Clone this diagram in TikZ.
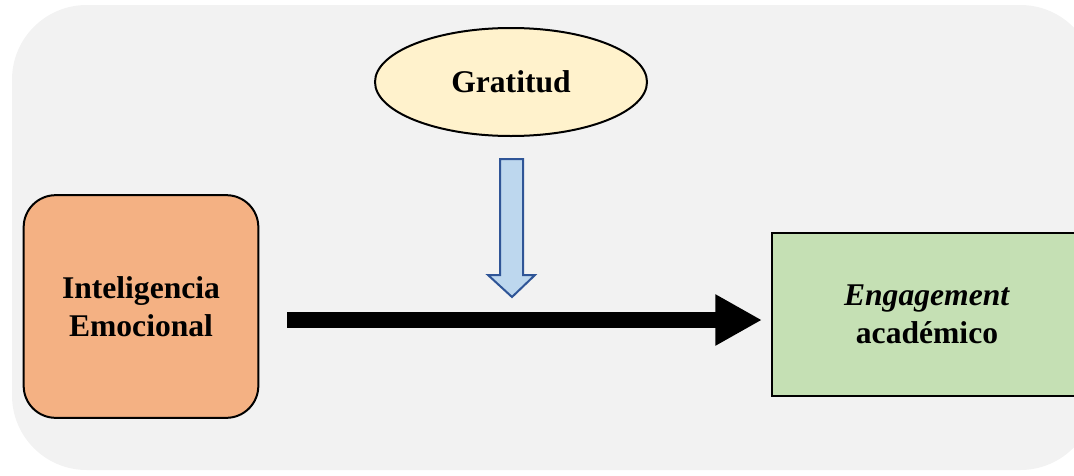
\documentclass[tikz,border=0pt]{standalone}
\usepackage{fontspec}
\setmainfont{Liberation Serif}
\usetikzlibrary{arrows.meta,shapes.geometric}

\definecolor{bgray}{HTML}{F2F2F2}
\definecolor{orangebox}{HTML}{F4B183}
\definecolor{yellowbox}{HTML}{FFF2CC}
\definecolor{greenbox}{HTML}{C5E0B4}
\definecolor{bluefill}{HTML}{BDD7EE}
\definecolor{blueline}{HTML}{2F5597}

\begin{document}
\begin{tikzpicture}[x = 0.75pt, y = -0.75pt,
  varbox/.style = {draw = black, line width = 1.5pt, align = center,
    font = \fontsize{23.7}{28.5}\selectfont\bfseries},
  bigarrow/.style = {line width = 12pt, -{Triangle[length = 35pt, width = 36pt]}}]
\useasboundingbox (0, 0) rectangle (1074, 475);
\fill[bgray, rounded corners = 56pt] (12, 5) rectangle (1095, 470);
\node (ie) [varbox, fill = orangebox, rounded corners = 24pt,
  minimum width = 176pt, minimum height = 167pt] at (141, 306.5)
  {Inteligencia\\Emocional};
\node (grat) [varbox, ellipse, fill = yellowbox, inner sep = 0pt,
  minimum width = 204pt, minimum height = 81pt] at (511, 82) {Gratitud};
\node (eng) [varbox, fill = greenbox, minimum width = 232pt,
  minimum height = 122pt] at (927, 314.5) {\textit{Engagement}\\acad\'emico};
% main effect
\coordinate (start) at (287, 320);
\draw[bigarrow, shorten >= 7pt] (start) -- (start -| eng.west);
% moderator
\coordinate (mod) at (511.5, 159);
\draw[blueline, fill = bluefill, line width = 1.5pt]
  (mod) ++(-11.5, 0) -- ++(23, 0) -- ++(0, 116) -- ++(12, 0)
  -- (512, 297) -- (488, 275) -- (500, 275) -- cycle;
\end{tikzpicture}
\end{document}
